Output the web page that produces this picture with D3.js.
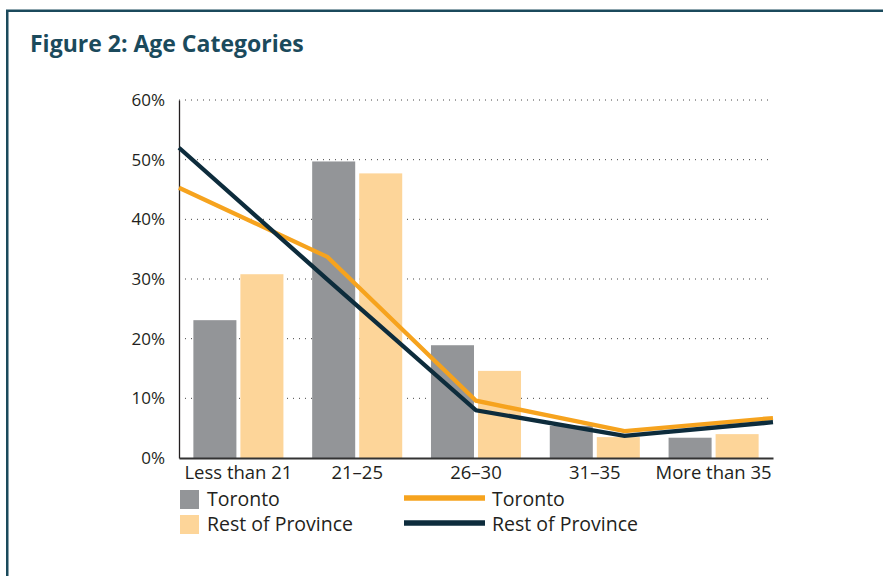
<!DOCTYPE html>
<html>
<head>
	<meta charset="utf-8">
	<title>Figure 2: Age Categories</title>
	<script src="https://cdn.jsdelivr.net/npm/d3@7"></script>
	<style type="text/css">
		html, body {
			margin: 0;
			padding: 0;
			background: white;
		}
		svg {
			display: block;
			font-family: 'Open Sans', sans-serif;
		}
	</style>
</head>
<body>

<div id="vis"></div>

<script type="text/javascript">

var categories = ["Less than 21", "21\u201325", "26\u201330", "31\u201335", "More than 35"];
var series = ["Toronto", "Rest of Province"];

// bars (percent)
var barToronto = [23.1, 49.7, 18.9, 5.4, 3.4];
var barRest = [30.8, 47.7, 14.6, 3.5, 4.0];

// lines (percent)
var lineToronto = [45.3, 33.7, 9.6, 4.5, 6.7];
var lineRest = [52.0, 29.9, 8.0, 3.7, 6.0];

var yTicks = [0, 10, 20, 30, 40, 50, 60];

var width = 883;
var height = 576;

var barColors = ["#939598", "#fdd599"];
var lineColors = ["#f6a31e", "#0d2c3c"];
var frameColor = "#1b4a5c";

var svg = d3.select("#vis").append("svg")
	.attr("width", width)
	.attr("height", height);

// frame (runs off the right and bottom edge)
svg.append("path")
	.attr("d", "M7.25," + height + "V10.75H" + width)
	.attr("fill", "none")
	.attr("stroke", frameColor)
	.attr("stroke-width", 2.5);

svg.append("text")
	.attr("x", 30)
	.attr("y", 52)
	.attr("fill", frameColor)
	.style("font-size", "23px")
	.style("font-weight", 700)
	.text("Figure 2: Age Categories");

var plotLeft = 179, plotRight = 773, plotTop = 100, plotBottom = 458;

var y = d3.scaleLinear()
	.domain([0, 60])
	.range([plotBottom, plotTop]);

var x = d3.scaleBand()
	.domain(categories)
	.range([plotLeft, plotRight])
	.paddingInner(0.242)
	.paddingOuter(0.121);

var xSub = d3.scaleBand()
	.domain(series)
	.range([0, x.bandwidth()])
	.paddingInner(0.085);

var xLine = d3.scalePoint()
	.domain(categories)
	.range([plotLeft, plotRight]);

// grid
svg.append("g")
	.selectAll("line")
	.data(yTicks.slice(1))
	.join("line")
	.attr("x1", plotLeft)
	.attr("x2", plotRight)
	.attr("y1", d => y(d))
	.attr("y2", d => y(d))
	.attr("stroke", "#444")
	.attr("stroke-width", 1)
	.attr("stroke-dasharray", "1,5");

// y axis
var yAxis = svg.append("g")
	.attr("transform", "translate(" + plotLeft + ",0)")
	.call(d3.axisLeft(y).tickValues(yTicks).tickFormat(d => d + "%").tickSize(0).tickPadding(14));

yAxis.select(".domain")
	.attr("stroke", "#231f20")
	.attr("stroke-width", 1.3);

yAxis.selectAll("text")
	.attr("fill", "#231f20")
	.style("font-size", "17px")
	.style("font-family", "'Open Sans', sans-serif");

// bars
var barData = categories.map(function(c, i) {
	return [
		{cat: c, s: series[0], v: barToronto[i], color: barColors[0]},
		{cat: c, s: series[1], v: barRest[i], color: barColors[1]}
	];
});

svg.append("g")
	.selectAll("g")
	.data(barData)
	.join("g")
	.attr("transform", d => "translate(" + x(d[0].cat) + ",0)")
	.selectAll("rect")
	.data(d => d)
	.join("rect")
	.attr("x", d => xSub(d.s))
	.attr("width", xSub.bandwidth())
	.attr("y", d => y(d.v))
	.attr("height", d => y(0) - y(d.v))
	.attr("fill", d => d.color);

// x axis
var xAxis = svg.append("g")
	.attr("transform", "translate(0," + plotBottom + ")")
	.call(d3.axisBottom(x).tickSize(0).tickPadding(8).tickSizeOuter(0));

xAxis.select(".domain")
	.attr("stroke", "#333")
	.attr("stroke-width", 2.2);

xAxis.selectAll("text")
	.attr("fill", "#231f20")
	.style("font-size", "18.5px")
	.style("font-family", "'Open Sans', sans-serif");

// lines
var line = d3.line()
	.x((d, i) => xLine(categories[i]))
	.y(d => y(d));

[lineToronto, lineRest].forEach(function(vals, i) {
	svg.append("path")
		.datum(vals)
		.attr("d", line)
		.attr("fill", "none")
		.attr("stroke", lineColors[i])
		.attr("stroke-width", 4.3)
		.attr("stroke-linejoin", "miter");
});

// legend
var legend = svg.append("g");

series.forEach(function(s, i) {
	var gy = 490 + i * 25;
	legend.append("rect")
		.attr("x", 180)
		.attr("y", gy)
		.attr("width", 19)
		.attr("height", 19)
		.attr("fill", barColors[i]);
	legend.append("text")
		.attr("x", 207)
		.attr("y", gy + 16)
		.attr("fill", "#231f20")
		.style("font-size", "19.5px")
		.text(s);

	legend.append("line")
		.attr("x1", 404)
		.attr("x2", 485)
		.attr("y1", gy + 8)
		.attr("y2", gy + 8)
		.attr("stroke", lineColors[i])
		.attr("stroke-width", 5.5);
	legend.append("text")
		.attr("x", 492)
		.attr("y", gy + 16)
		.attr("fill", "#231f20")
		.style("font-size", "19.5px")
		.text(s);
});

</script>

</body>
</html>
